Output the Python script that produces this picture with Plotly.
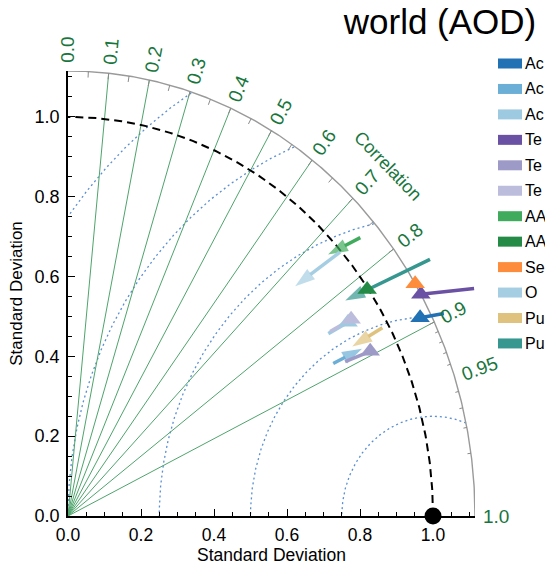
import numpy as np
import plotly.graph_objects as go

# ---------------- data ----------------
models = ["Ac", "Ac", "Ac", "Te", "Te", "Te", "AA", "AA", "Se", "O", "Pu", "Pu"]
colors = ["#2171b5", "#6baed6", "#9ecae1", "#6a51a3", "#9e9ac8", "#bcbddc",
          "#41ab5d", "#238b45", "#fd8d3c", "#a6cee3", "#dfc27d", "#35978f"]
# arrow head (std, corr) and arrow tail (std, corr)
std_head = [1.085, 0.908, 0.908, 1.115, 0.925, 0.919, 0.968, 0.997, 1.115, 0.848, 0.887, 0.932]
corr_head = [0.889, 0.887, 0.845, 0.867, 0.895, 0.844, 0.736, 0.822, 0.853, 0.734, 0.878, 0.815]
std_tail = [1.148, 0.821, 0.847, 1.250, 0.852, 0.854, 1.062, 1.009, 1.126, 0.996, 0.982, 1.182]
corr_tail = [0.897, 0.885, 0.842, 0.890, 0.891, 0.841, 0.754, 0.823, 0.852, 0.748, 0.877, 0.839]
head_symbol = ["triangle-up", "arrow", "triangle-up", "triangle-up", "triangle-up", "triangle-up",
               "arrow", "triangle-up", "triangle-up", "arrow", "arrow", "arrow"]

ref_std = 1.0
corr_lines = [0.1, 0.2, 0.3, 0.4, 0.5, 0.6, 0.7, 0.8, 0.9]
corr_label_vals = [0.0, 0.1, 0.2, 0.3, 0.4, 0.5, 0.6, 0.7, 0.8, 0.9, 0.95, 1.0]
corr_label_text = ["0.0", "0.1", "0.2", "0.3", "0.4", "0.5", "0.6", "0.7", "0.8", "0.9", "0.95", "1.0"]
corr_ticks_major = [round(0.05 * i, 2) for i in range(1, 19)]
corr_ticks_fine = [0.91, 0.92, 0.93, 0.94, 0.96, 0.97, 0.98, 0.99]
rms_radii = [0.25, 0.5, 0.75, 1.0, 1.25]

R = 1.115
W, H = 545, 565
ML, MR, MT, MB = 68, 70, 71, 49
PW, PH = W - ML - MR, H - MT - MB
kx, ky = PW / R, PH / R

GREEN_LINE = "#4ea46c"
GREEN_TXT = "#17763d"
FONT = "Liberation Sans, Arial, Helvetica, sans-serif"

fig = go.Figure()

# RMS dotted arcs centred on reference point
for rr in rms_radii:
    t = np.linspace(0, np.pi, 600)
    xs = ref_std + rr * np.cos(t)
    ys = rr * np.sin(t)
    m = (np.hypot(xs, ys) <= R) & (xs >= 0)
    xs = np.where(m, xs, np.nan)
    ys = np.where(m, ys, np.nan)
    fig.add_trace(go.Scatter(x=xs, y=ys, mode="lines", hoverinfo="skip",
                             line=dict(color="#5a8fd2", width=1.3, dash="2px,3px")))

# correlation radial lines
lx, ly = [], []
for c in corr_lines:
    th = np.arccos(c)
    lx += [0, R * np.cos(th), None]
    ly += [0, R * np.sin(th), None]
fig.add_trace(go.Scatter(x=lx, y=ly, mode="lines", hoverinfo="skip",
                         line=dict(color=GREEN_LINE, width=1)))

# reference std dashed arc
t = np.linspace(0, np.pi / 2, 300)
fig.add_trace(go.Scatter(x=ref_std * np.cos(t), y=ref_std * np.sin(t), mode="lines",
                         hoverinfo="skip", line=dict(color="black", width=2, dash="8px,5px")))

# outer arc
fig.add_trace(go.Scatter(x=R * np.cos(t), y=R * np.sin(t), mode="lines", hoverinfo="skip",
                         line=dict(color="#9a9a9a", width=1.4), cliponaxis=False))

# ticks on outer arc
tx, ty = [], []
for vals, L in ((corr_ticks_major, 6), (corr_ticks_fine, 3.5)):
    for c in vals:
        th = np.arccos(c)
        tx += [R * np.cos(th), (R - L / kx) * np.cos(th), None]
        ty += [R * np.sin(th), (R - L / ky) * np.sin(th), None]
fig.add_trace(go.Scatter(x=tx, y=ty, mode="lines", hoverinfo="skip",
                         line=dict(color="#8a8a8a", width=1)))

# model arrows: lines (and arrow heads) first
heads = []
for i in range(len(models)):
    xt = std_tail[i] * corr_tail[i]
    yt = std_tail[i] * np.sqrt(1 - corr_tail[i] ** 2)
    xh = std_head[i] * corr_head[i]
    yh = std_head[i] * np.sqrt(1 - corr_head[i] ** 2)
    heads.append((xh, yh))
    is_arrow = head_symbol[i] == "arrow"
    fig.add_trace(go.Scatter(
        x=[xt, xh], y=[yt, yh], mode="lines+markers" if is_arrow else "lines",
        name=models[i], line=dict(color=colors[i], width=3.5),
        marker=dict(symbol=["circle", "arrow"], size=[0, 21], color=colors[i],
                    angleref="previous", line=dict(width=0)),
        cliponaxis=False))
# triangle markers on top
for i in range(len(models)):
    if head_symbol[i] != "arrow":
        fig.add_trace(go.Scatter(
            x=[heads[i][0]], y=[heads[i][1]], mode="markers", name=models[i],
            marker=dict(symbol="triangle-up", size=17, color=colors[i], line=dict(width=0)),
            cliponaxis=False))

# reference point
fig.add_trace(go.Scatter(x=[ref_std], y=[0], mode="markers", cliponaxis=False,
                         marker=dict(color="black", size=17)))

# correlation labels (paper coordinates so they are never hidden)
ann = []
fs = 19
gap = 8
for c, txt in zip(corr_label_vals, corr_label_text):
    th = np.arccos(c)
    phi = np.arctan2(ky * np.sin(th), kx * np.cos(th))
    w = fs * (0.556 * (len(txt) - 1) + 0.278)
    d = gap + w / 2
    px = kx * R * np.cos(th) + d * np.cos(phi)
    py = ky * R * np.sin(th) + d * np.sin(phi)
    ann.append(dict(x=px / PW, y=py / PH, xref="paper", yref="paper", text=txt,
                    showarrow=False, textangle=-np.degrees(phi),
                    xanchor="center", yanchor="middle",
                    font=dict(size=fs, color=GREEN_TXT, family=FONT)))
ann.append(dict(x=(388 - ML) / PW, y=(H - MB - 166) / PH, xref="paper", yref="paper",
                text="Correlation", showarrow=False, textangle=46,
                xanchor="center", yanchor="middle",
                font=dict(size=18, color=GREEN_TXT, family=FONT)))

# manual legend
shapes = []
for i, (mname, col) in enumerate(zip(models, colors)):
    yc = 63.5 + 25.45 * i
    shapes.append(dict(type="rect", xref="paper", yref="paper",
                       x0=(498 - ML) / PW, x1=(522 - ML) / PW,
                       y0=(H - MB - (yc + 5)) / PH, y1=(H - MB - (yc - 5)) / PH,
                       fillcolor=col, line=dict(width=0)))
    ann.append(dict(x=(523 - ML) / PW, y=(H - MB - yc) / PH, xref="paper", yref="paper",
                    text=mname, showarrow=False, xanchor="left", yanchor="middle",
                    font=dict(size=16, color="black", family=FONT)))

fig.update_layout(
    width=W, height=H, margin=dict(l=ML, r=MR, t=MT, b=MB, autoexpand=False),
    plot_bgcolor="white", paper_bgcolor="white", showlegend=False,
    font=dict(family=FONT, color="black"),
    title=dict(text="world (AOD)", xref="container", yref="container",
               x=440 / W, y=1 - 22 / H, xanchor="center", yanchor="middle",
               font=dict(size=35, color="black", family=FONT)),
    annotations=ann, shapes=shapes,
)
axis_common = dict(range=[0, R], showgrid=False, zeroline=False, showline=True,
                   linecolor="black", linewidth=1.5, ticks="inside", tick0=0, dtick=0.2,
                   tickformat=".1f", ticklen=7, tickwidth=1.2, tickcolor="black",
                   tickfont=dict(size=18, color="black"), automargin=False,
                   minor=dict(ticks="inside", tick0=0, dtick=0.05, ticklen=4,
                              tickcolor="black", tickwidth=1, showgrid=False),
                   fixedrange=True)
fig.update_xaxes(**axis_common, ticklabelstandoff=2,
                 title=dict(text="Standard Deviation", standoff=2, font=dict(size=17.5)))
fig.update_xaxes(tickfont=dict(size=17.5))
fig.update_yaxes(**axis_common, ticklabelstandoff=3,
                 title=dict(text="Standard Deviation", standoff=8, font=dict(size=17)))

fig.write_html("out.html")
